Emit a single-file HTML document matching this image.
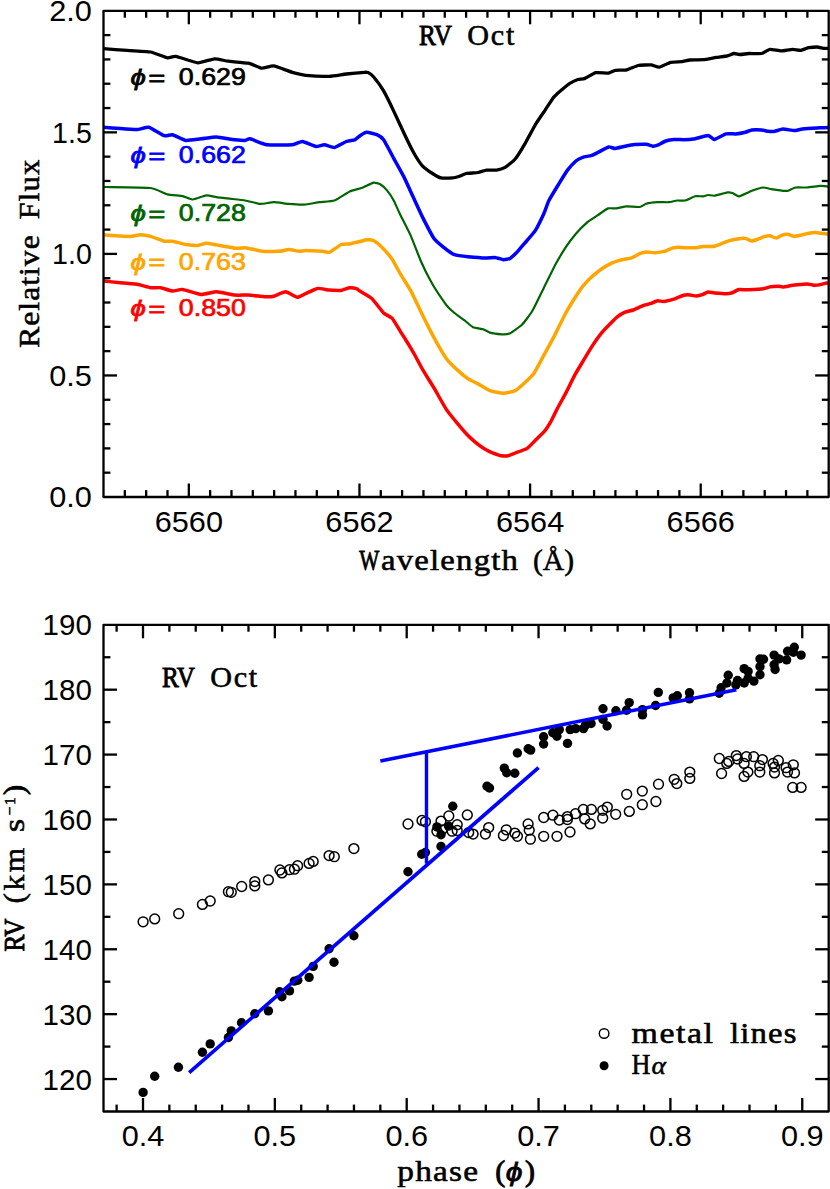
<!DOCTYPE html>
<html><head><meta charset="utf-8"><title>RV Oct</title>
<style>
html,body{margin:0;padding:0;background:#fff;}
body{width:830px;height:1189px;overflow:hidden;font-family:"Liberation Sans",sans-serif;}
svg{display:block;}
</style></head><body>
<svg width="830" height="1189" viewBox="0 0 830 1189">
<rect x="0" y="0" width="830" height="1189" fill="#fff"/>
<g id="curves">
<path d="M103.4,48.7C105.2,48.8 123.5,50.2 127.0,50.4C130.5,50.6 147.6,51.4 150.6,52.0C153.6,52.6 165.6,57.5 167.5,57.8C169.4,58.1 173.6,56.0 175.9,56.4C178.2,56.8 194.9,62.6 197.8,62.8C200.7,63.0 212.4,58.9 214.7,58.8C217.0,58.7 225.7,60.9 228.2,61.2C230.7,61.5 245.9,62.7 248.4,63.2C250.9,63.7 260.0,68.0 261.9,68.2C263.8,68.4 271.4,65.6 273.7,65.9C276.0,66.2 289.6,71.6 292.3,72.3C295.0,73.0 306.4,75.4 309.2,75.7C312.0,76.0 326.6,76.4 329.4,76.3C332.2,76.2 343.6,74.3 346.3,74.0C349.0,73.7 363.2,72.4 364.8,72.3C366.4,72.2 367.3,72.3 368.0,72.6C368.7,72.9 372.3,75.3 373.5,76.7C374.7,78.1 382.1,88.3 383.6,90.9C385.1,93.5 392.2,107.9 393.7,111.1C395.2,114.3 402.4,129.8 403.9,133.0C405.4,136.2 412.6,150.8 414.0,153.3C415.4,155.8 421.0,164.3 422.4,165.8C423.8,167.3 431.1,172.6 432.5,173.5C433.9,174.4 439.5,177.6 441.0,177.9C442.5,178.2 451.4,178.0 452.8,177.9C454.2,177.8 458.5,176.5 459.5,176.2C460.5,175.9 464.9,173.8 466.3,173.5C467.7,173.2 476.6,172.8 478.1,172.5C479.6,172.2 485.1,170.3 486.5,170.1C487.9,169.9 495.2,170.3 496.6,170.1C498.0,169.9 503.7,168.2 505.1,167.4C506.5,166.6 513.7,160.8 515.2,159.0C516.7,157.2 523.8,145.7 525.3,143.1C526.8,140.5 533.9,127.1 535.4,124.6C536.9,122.1 544.2,111.5 545.6,109.4C547.0,107.3 552.7,98.4 554.0,96.9C555.3,95.4 561.2,90.2 562.4,89.2C563.6,88.2 568.6,84.1 569.8,83.4C571.0,82.7 576.8,79.9 577.9,79.5C579.0,79.1 583.1,79.1 584.4,78.6C585.7,78.1 594.0,73.1 595.8,72.7C597.6,72.3 607.3,73.2 608.8,73.0C610.3,72.8 614.0,70.6 615.3,70.4C616.6,70.2 625.0,70.2 626.7,69.8C628.4,69.4 636.3,65.9 638.1,65.5C639.9,65.1 649.5,64.8 651.1,64.9C652.7,65.0 657.7,67.4 659.2,67.2C660.7,67.0 668.9,62.7 670.6,62.3C672.3,61.9 680.5,61.8 682.0,61.6C683.5,61.4 688.5,60.1 690.1,60.0C691.7,59.9 701.1,59.9 703.1,59.7C705.1,59.5 714.3,57.7 716.1,57.4C717.9,57.1 726.2,56.1 727.5,55.8C728.8,55.5 733.0,53.6 734.0,53.5C735.0,53.4 739.4,54.5 740.5,54.5C741.6,54.5 747.1,53.6 748.7,53.5C750.3,53.4 760.1,53.8 761.7,53.5C763.3,53.2 768.3,49.5 769.8,49.3C771.3,49.1 779.5,50.9 781.2,50.9C782.9,50.9 791.1,49.3 792.6,49.3C794.1,49.3 799.5,50.4 800.7,50.3C801.9,50.2 807.7,47.9 808.9,47.7C810.1,47.5 815.9,47.0 817.0,47.0C818.1,47.0 822.6,48.2 823.5,48.3C824.4,48.4 828.6,48.3 829.0,48.3" fill="none" stroke="#000" stroke-width="3.3" stroke-linejoin="round" stroke-linecap="butt"/>
<path d="M103.4,127.3C104.7,127.4 117.7,128.4 120.2,128.6C122.7,128.8 134.9,129.7 137.1,129.6C139.3,129.5 146.9,126.8 148.9,127.3C150.9,127.8 162.3,135.1 164.1,135.7C165.9,136.3 170.9,134.3 172.5,134.7C174.1,135.1 183.8,140.1 186.0,140.4C188.2,140.7 198.9,139.0 201.2,138.8C203.5,138.6 213.9,137.0 216.4,137.1C218.9,137.2 232.8,139.6 235.0,139.8C237.2,140.0 244.0,140.5 245.1,140.4C246.2,140.3 248.5,138.5 250.1,138.8C251.7,139.1 263.8,144.4 267.0,144.8C270.2,145.2 289.6,145.0 292.3,144.8C295.0,144.6 300.6,141.4 302.4,141.5C304.2,141.6 314.2,146.3 315.9,146.5C317.5,146.7 323.0,144.7 324.4,144.8C325.8,144.9 332.9,147.7 334.5,147.5C336.1,147.3 344.8,142.1 346.3,141.5C347.8,140.9 353.7,140.2 354.7,139.8C355.7,139.4 359.1,136.3 360.0,135.7C360.9,135.1 365.4,132.4 366.7,132.3C368.0,132.2 375.6,134.1 376.9,134.7C378.2,135.3 382.3,138.0 383.6,139.8C384.9,141.6 392.2,155.5 393.7,158.3C395.2,161.1 402.4,173.9 403.9,176.9C405.4,179.9 412.6,195.8 414.0,198.8C415.4,201.8 420.9,213.9 422.4,216.9C423.9,219.9 432.6,236.5 434.2,238.8C435.8,241.1 442.8,246.7 444.3,247.9C445.8,249.1 452.7,254.0 454.5,254.7C456.3,255.4 465.7,256.5 468.0,256.7C470.3,256.9 482.8,257.9 484.8,258.0C486.8,258.1 493.6,257.3 495.0,257.4C496.4,257.5 502.3,259.6 503.4,259.7C504.5,259.8 509.1,259.0 510.1,258.4C511.1,257.8 515.6,253.6 516.9,252.3C518.2,251.0 525.6,242.1 527.0,240.5C528.4,238.9 534.1,232.4 535.4,230.4C536.7,228.4 542.9,215.7 543.9,213.5C544.9,211.3 547.8,202.7 548.9,200.5C550.0,198.3 557.6,185.9 559.0,183.6C560.4,181.3 566.2,171.8 567.5,170.1C568.8,168.4 574.8,162.0 575.9,161.0C577.0,160.0 581.6,157.7 582.7,157.3C583.8,156.9 589.8,156.0 591.1,155.6C592.4,155.2 598.2,152.3 599.5,151.6C600.8,150.9 607.6,147.1 608.8,146.9C610.0,146.7 614.1,148.6 615.3,148.5C616.5,148.4 623.6,146.5 625.1,146.2C626.6,145.9 633.2,144.7 634.8,144.6C636.4,144.5 644.9,144.2 646.2,144.3C647.5,144.4 651.8,146.1 652.7,146.2C653.6,146.3 656.6,145.6 657.6,145.2C658.6,144.8 664.5,141.4 665.7,141.0C666.9,140.6 672.6,139.5 673.9,139.4C675.2,139.3 682.1,139.7 683.6,139.7C685.1,139.7 691.6,139.4 693.4,139.1C695.2,138.8 706.4,135.5 708.0,135.5C709.6,135.5 713.2,139.5 714.5,139.4C715.8,139.3 724.3,134.3 725.9,133.9C727.5,133.5 734.2,134.0 735.7,133.9C737.2,133.8 744.2,132.5 745.4,132.2C746.6,131.9 750.7,130.2 751.9,130.0C753.1,129.8 760.5,129.9 761.7,130.0C762.9,130.1 767.2,131.2 768.2,131.3C769.2,131.4 773.6,131.5 774.7,131.3C775.8,131.1 781.3,129.1 782.8,129.0C784.3,128.9 792.7,130.6 794.2,130.6C795.7,130.6 800.7,129.2 802.4,129.0C804.1,128.8 815.0,128.1 817.0,128.0C819.0,127.9 828.1,127.4 829.0,127.4" fill="none" stroke="#0000ff" stroke-width="3.5" stroke-linejoin="round" stroke-linecap="butt"/>
<path d="M103.4,187.0C106.9,187.1 145.8,187.4 150.6,188.0C155.4,188.6 165.1,193.8 167.5,194.4C169.9,195.0 180.8,195.7 182.7,196.1C184.6,196.5 191.0,199.6 192.8,199.5C194.6,199.4 204.5,195.6 206.3,195.4C208.1,195.2 215.0,196.9 216.4,197.1C217.8,197.3 222.6,197.8 224.8,198.1C227.0,198.4 242.4,200.1 245.1,200.5C247.8,200.9 258.2,203.8 260.3,203.9C262.4,204.0 271.6,202.2 273.7,202.2C275.8,202.2 286.6,203.7 288.9,203.9C291.2,204.1 301.8,204.7 304.1,204.6C306.4,204.5 317.0,202.5 319.3,202.2C321.6,201.9 332.2,201.3 334.5,200.5C336.8,199.7 347.7,192.3 349.7,191.4C351.7,190.5 359.7,188.7 361.5,188.0C363.3,187.3 372.1,182.9 373.5,182.6C374.9,182.3 379.2,183.7 380.2,184.3C381.2,184.9 386.0,189.2 387.0,190.4C388.0,191.6 392.7,198.6 393.7,200.5C394.7,202.4 399.2,212.6 400.5,215.2C401.8,217.8 409.1,232.0 410.6,235.4C412.1,238.8 419.1,257.0 420.7,260.7C422.3,264.4 430.6,281.0 432.5,284.3C434.4,287.6 444.4,302.4 446.0,304.6C447.6,306.8 453.1,311.8 454.5,313.0C455.9,314.2 463.2,319.3 464.6,320.4C466.0,321.5 471.6,326.5 473.0,327.2C474.4,327.9 481.8,328.8 483.1,329.2C484.4,329.6 488.5,332.2 489.9,332.6C491.3,333.0 500.2,334.2 501.7,334.3C503.2,334.4 508.6,334.0 510.1,333.3C511.6,332.6 520.2,326.4 521.9,324.8C523.5,323.2 530.5,314.1 532.1,311.3C533.8,308.5 542.1,291.2 543.9,287.7C545.7,284.2 554.1,267.1 555.7,264.1C557.3,261.1 564.3,249.5 565.8,247.2C567.3,244.9 574.3,235.6 575.9,233.7C577.5,231.8 586.1,223.3 587.7,221.9C589.3,220.5 596.3,216.2 597.8,215.2C599.3,214.2 606.6,208.9 608.0,208.4C609.4,207.9 615.0,208.6 616.4,208.4C617.8,208.2 625.0,206.5 626.7,206.4C628.4,206.3 638.2,207.2 639.7,207.0C641.2,206.8 644.9,204.2 646.2,203.8C647.5,203.4 655.9,202.3 657.6,202.2C659.3,202.1 667.5,202.3 669.0,202.2C670.5,202.1 675.9,200.6 677.1,200.5C678.3,200.4 683.9,200.8 685.2,200.5C686.5,200.2 693.7,196.6 695.0,196.3C696.3,196.0 702.1,196.4 703.1,196.3C704.1,196.2 707.1,195.0 708.0,195.0C708.9,195.0 713.0,195.9 714.5,195.7C716.0,195.5 726.2,192.6 727.5,192.4C728.8,192.2 731.5,192.7 732.4,193.0C733.3,193.3 737.4,196.5 738.9,196.3C740.4,196.1 750.1,191.5 751.9,190.8C753.7,190.1 761.8,187.6 763.3,187.5C764.8,187.4 770.0,189.0 771.5,189.2C773.0,189.4 781.6,190.7 782.8,190.8C784.0,190.9 786.7,191.0 787.7,190.8C788.7,190.6 794.3,187.7 795.8,187.5C797.3,187.3 805.4,187.6 807.2,187.5C809.0,187.4 818.6,186.0 820.2,185.9C821.8,185.8 828.3,186.5 829.0,186.6" fill="none" stroke="#006400" stroke-width="2.2" stroke-linejoin="round" stroke-linecap="butt"/>
<path d="M103.4,234.8C104.7,234.9 118.2,236.0 120.2,236.1C122.2,236.2 128.9,236.5 130.4,236.4C131.9,236.3 139.0,234.8 140.5,234.8C142.0,234.8 148.8,235.9 150.6,236.4C152.4,236.9 162.5,240.8 164.1,241.2C165.7,241.6 170.9,241.0 172.5,241.2C174.1,241.4 184.1,244.2 186.0,244.5C187.9,244.8 196.3,245.6 197.8,245.5C199.3,245.4 204.9,243.2 206.3,243.2C207.7,243.2 214.2,244.5 216.4,244.9C218.6,245.3 232.7,248.0 235.0,248.2C237.3,248.4 244.8,247.7 246.8,247.9C248.8,248.1 259.5,251.0 261.9,251.3C264.3,251.6 276.8,251.4 278.8,251.3C280.8,251.2 287.4,249.6 288.9,249.6C290.4,249.6 297.8,251.2 299.1,251.3C300.4,251.4 304.0,250.6 305.8,250.6C307.6,250.6 320.9,251.2 322.7,251.3C324.5,251.4 328.0,252.8 329.4,252.3C330.8,251.8 339.7,245.1 341.2,244.5C342.7,243.9 348.3,244.1 349.7,243.9C351.1,243.7 358.5,241.8 359.8,241.5C361.1,241.2 365.7,239.9 366.7,239.8C367.7,239.7 372.4,239.9 373.5,240.5C374.6,241.1 380.5,245.8 381.9,247.2C383.3,248.6 390.6,257.0 392.0,259.0C393.4,261.0 399.1,271.8 400.5,274.2C401.9,276.6 409.1,287.6 410.6,290.4C412.1,293.2 419.2,308.2 420.7,311.3C422.2,314.4 429.3,328.7 430.8,331.6C432.3,334.5 439.7,347.9 441.0,350.1C442.3,352.3 446.4,358.8 447.7,360.3C449.0,361.8 456.3,369.0 457.8,370.4C459.3,371.8 466.5,377.8 468.0,378.8C469.5,379.8 476.5,383.0 478.1,383.9C479.7,384.8 488.0,389.9 489.9,390.6C491.8,391.3 501.5,393.3 503.4,393.3C505.3,393.3 513.6,391.4 515.2,390.6C516.8,389.8 523.9,383.5 525.3,382.2C526.7,380.9 532.3,375.8 533.7,373.8C535.1,371.8 542.4,358.0 543.9,355.2C545.4,352.4 552.4,339.8 554.0,336.6C555.6,333.4 564.2,316.0 565.8,313.0C567.4,310.0 574.5,298.4 575.9,296.2C577.3,294.0 583.1,285.8 584.4,284.3C585.7,282.8 591.5,277.0 592.8,275.9C594.1,274.8 599.9,270.1 601.2,269.2C602.5,268.3 608.3,264.8 609.7,264.1C611.1,263.4 618.6,260.7 620.2,260.2C621.8,259.7 630.1,258.4 631.6,257.9C633.1,257.4 638.6,254.1 639.7,253.7C640.8,253.3 645.1,252.1 646.2,252.0C647.3,251.9 653.0,252.7 654.3,252.7C655.6,252.7 662.8,251.7 664.1,251.4C665.4,251.1 671.1,248.4 672.2,248.1C673.3,247.8 677.7,247.2 678.7,247.2C679.7,247.2 684.0,247.8 685.2,247.8C686.4,247.8 693.7,247.9 695.0,247.8C696.3,247.7 701.6,246.6 703.1,246.5C704.6,246.4 713.2,246.4 714.5,246.2C715.8,246.0 719.9,244.3 721.0,243.9C722.1,243.5 728.0,241.1 729.2,240.7C730.4,240.3 736.1,239.2 737.3,239.0C738.5,238.8 744.3,238.2 745.4,238.4C746.5,238.6 750.9,241.0 751.9,241.0C752.9,241.0 757.4,239.3 758.4,239.0C759.4,238.7 764.0,236.6 764.9,236.4C765.8,236.2 768.9,235.7 769.8,235.8C770.7,235.9 775.3,238.2 776.3,238.1C777.3,238.0 781.9,235.1 782.8,234.8C783.7,234.5 786.8,234.1 787.7,234.2C788.6,234.3 793.1,236.4 794.2,236.4C795.3,236.4 801.3,235.0 802.4,234.8C803.5,234.6 807.9,233.4 808.9,233.2C809.9,233.0 814.3,232.5 815.4,232.5C816.5,232.5 822.5,233.4 823.5,233.5C824.5,233.6 828.6,234.1 829.0,234.2" fill="none" stroke="#ffa500" stroke-width="3.5" stroke-linejoin="round" stroke-linecap="butt"/>
<path d="M103.4,281.0C104.7,281.1 117.7,282.5 120.2,282.7C122.7,282.9 134.8,283.9 137.1,284.3C139.4,284.7 148.8,287.4 150.6,287.7C152.4,288.0 159.1,287.4 160.7,287.7C162.3,288.0 170.8,291.0 172.5,291.1C174.2,291.2 180.5,289.1 182.7,289.4C184.9,289.7 198.7,294.3 201.2,294.5C203.7,294.7 213.9,291.8 216.4,291.8C218.9,291.8 232.6,294.9 235.0,295.1C237.4,295.3 246.1,295.0 248.4,295.1C250.7,295.2 263.4,296.7 265.3,296.8C267.2,296.9 272.2,296.6 273.7,296.2C275.2,295.8 283.8,291.7 285.6,291.8C287.4,291.9 295.9,297.1 297.4,297.2C298.9,297.3 304.3,294.2 305.8,293.5C307.3,292.8 315.8,288.7 317.6,288.4C319.4,288.1 327.6,290.0 329.4,290.1C331.2,290.2 339.7,290.6 341.2,290.4C342.7,290.2 348.6,287.8 349.7,287.7C350.8,287.6 355.6,288.4 356.4,288.7C357.2,289.0 358.8,290.4 360.0,291.1C361.2,291.8 370.0,296.9 371.8,298.5C373.6,300.1 382.1,311.5 383.6,313.0C385.1,314.5 390.7,316.7 392.0,318.1C393.3,319.5 399.5,330.0 400.5,331.6C401.5,333.2 404.8,338.3 405.8,340.0C406.9,341.7 413.2,352.2 414.5,354.5C415.8,356.8 421.6,367.8 423.1,370.4C424.6,373.0 433.0,386.3 434.7,389.2C436.4,392.1 444.6,406.8 446.3,409.4C448.0,412.0 456.3,422.1 457.8,423.9C459.3,425.7 465.2,432.6 466.5,434.0C467.8,435.4 473.9,441.0 475.2,442.1C476.5,443.2 482.6,447.6 483.9,448.4C485.2,449.2 491.2,452.3 492.5,452.8C493.8,453.3 500.0,455.5 501.2,455.7C502.4,455.9 507.3,455.9 508.4,455.7C509.5,455.5 514.3,453.3 515.7,452.8C517.1,452.3 525.7,449.4 527.2,448.4C528.7,447.4 534.6,441.1 535.9,439.8C537.2,438.5 543.5,432.4 544.6,431.1C545.7,429.8 549.4,424.1 550.4,422.4C551.4,420.7 556.4,410.3 557.6,408.0C558.8,405.7 565.0,394.6 566.3,392.1C567.6,389.6 573.7,377.1 575.0,374.7C576.3,372.3 582.3,362.4 583.6,360.2C584.9,358.0 591.5,347.1 592.8,345.1C594.1,343.1 599.9,334.9 601.2,333.3C602.5,331.7 608.5,325.4 609.7,324.2C610.9,323.0 615.7,318.0 616.9,317.1C618.1,316.2 623.9,312.7 625.1,312.2C626.3,311.7 631.9,310.5 633.2,310.0C634.5,309.5 641.7,306.2 643.0,305.7C644.3,305.2 650.0,303.8 651.1,303.4C652.2,303.0 656.6,300.9 657.6,300.8C658.6,300.7 662.8,301.7 664.1,301.5C665.4,301.3 674.0,299.1 675.5,298.6C677.0,298.1 682.5,295.6 683.6,295.3C684.7,295.0 689.1,294.9 690.1,295.0C691.1,295.1 695.6,296.1 696.6,296.0C697.6,295.9 702.2,294.6 703.1,294.3C704.0,294.0 707.1,292.2 708.0,292.1C708.9,292.0 713.2,292.9 714.5,293.0C715.8,293.1 724.6,293.7 725.9,293.7C727.2,293.7 731.4,293.0 732.4,292.7C733.4,292.4 737.7,289.7 738.9,289.5C740.1,289.3 746.9,289.9 748.7,289.8C750.5,289.7 761.7,289.0 763.3,288.8C764.9,288.6 768.7,287.1 769.8,286.9C770.9,286.7 777.0,286.2 778.0,286.2C779.0,286.2 781.8,286.9 782.8,286.9C783.8,286.9 789.7,285.8 791.0,285.6C792.3,285.4 799.5,284.7 800.7,284.6C801.9,284.5 806.2,283.9 807.2,283.9C808.2,283.9 812.7,285.1 813.7,285.2C814.7,285.3 819.2,284.8 820.2,284.6C821.2,284.4 826.0,283.1 826.7,283.0C827.4,282.9 828.8,283.6 829.0,283.6" fill="none" stroke="#ff0000" stroke-width="3.5" stroke-linejoin="round" stroke-linecap="butt"/>
</g>
<g id="points">
<circle cx="143.1" cy="921.8" r="4.9" fill="none" stroke="#000" stroke-width="1.5"/>
<circle cx="154.7" cy="918.9" r="4.9" fill="none" stroke="#000" stroke-width="1.5"/>
<circle cx="178.7" cy="913.7" r="4.9" fill="none" stroke="#000" stroke-width="1.5"/>
<circle cx="202.4" cy="904.4" r="4.9" fill="none" stroke="#000" stroke-width="1.5"/>
<circle cx="210.2" cy="901.0" r="4.9" fill="none" stroke="#000" stroke-width="1.5"/>
<circle cx="228.4" cy="891.7" r="4.9" fill="none" stroke="#000" stroke-width="1.5"/>
<circle cx="231.3" cy="892.3" r="4.9" fill="none" stroke="#000" stroke-width="1.5"/>
<circle cx="241.7" cy="886.5" r="4.9" fill="none" stroke="#000" stroke-width="1.5"/>
<circle cx="254.8" cy="881.6" r="4.9" fill="none" stroke="#000" stroke-width="1.5"/>
<circle cx="254.8" cy="885.9" r="4.9" fill="none" stroke="#000" stroke-width="1.5"/>
<circle cx="268.4" cy="879.9" r="4.9" fill="none" stroke="#000" stroke-width="1.5"/>
<circle cx="279.9" cy="870.0" r="4.9" fill="none" stroke="#000" stroke-width="1.5"/>
<circle cx="281.9" cy="872.9" r="4.9" fill="none" stroke="#000" stroke-width="1.5"/>
<circle cx="289.5" cy="869.7" r="4.9" fill="none" stroke="#000" stroke-width="1.5"/>
<circle cx="294.4" cy="869.2" r="4.9" fill="none" stroke="#000" stroke-width="1.5"/>
<circle cx="297.6" cy="865.7" r="4.9" fill="none" stroke="#000" stroke-width="1.5"/>
<circle cx="309.1" cy="863.4" r="4.9" fill="none" stroke="#000" stroke-width="1.5"/>
<circle cx="313.2" cy="861.4" r="4.9" fill="none" stroke="#000" stroke-width="1.5"/>
<circle cx="329.1" cy="855.6" r="4.9" fill="none" stroke="#000" stroke-width="1.5"/>
<circle cx="334.3" cy="856.7" r="4.9" fill="none" stroke="#000" stroke-width="1.5"/>
<circle cx="353.9" cy="848.6" r="4.9" fill="none" stroke="#000" stroke-width="1.5"/>
<circle cx="408.0" cy="824.0" r="4.9" fill="none" stroke="#000" stroke-width="1.5"/>
<circle cx="422.0" cy="820.4" r="4.9" fill="none" stroke="#000" stroke-width="1.5"/>
<circle cx="425.4" cy="821.8" r="4.9" fill="none" stroke="#000" stroke-width="1.5"/>
<circle cx="441.0" cy="821.1" r="4.9" fill="none" stroke="#000" stroke-width="1.5"/>
<circle cx="448.8" cy="816.0" r="4.9" fill="none" stroke="#000" stroke-width="1.5"/>
<circle cx="467.3" cy="814.9" r="4.9" fill="none" stroke="#000" stroke-width="1.5"/>
<circle cx="436.9" cy="831.2" r="4.9" fill="none" stroke="#000" stroke-width="1.5"/>
<circle cx="442.0" cy="829.8" r="4.9" fill="none" stroke="#000" stroke-width="1.5"/>
<circle cx="452.1" cy="831.2" r="4.9" fill="none" stroke="#000" stroke-width="1.5"/>
<circle cx="457.2" cy="824.7" r="4.9" fill="none" stroke="#000" stroke-width="1.5"/>
<circle cx="457.2" cy="830.5" r="4.9" fill="none" stroke="#000" stroke-width="1.5"/>
<circle cx="468.7" cy="832.6" r="4.9" fill="none" stroke="#000" stroke-width="1.5"/>
<circle cx="473.1" cy="834.1" r="4.9" fill="none" stroke="#000" stroke-width="1.5"/>
<circle cx="485.4" cy="834.1" r="4.9" fill="none" stroke="#000" stroke-width="1.5"/>
<circle cx="488.7" cy="827.6" r="4.9" fill="none" stroke="#000" stroke-width="1.5"/>
<circle cx="503.4" cy="835.5" r="4.9" fill="none" stroke="#000" stroke-width="1.5"/>
<circle cx="506.3" cy="829.8" r="4.9" fill="none" stroke="#000" stroke-width="1.5"/>
<circle cx="514.8" cy="833.1" r="4.9" fill="none" stroke="#000" stroke-width="1.5"/>
<circle cx="517.4" cy="836.3" r="4.9" fill="none" stroke="#000" stroke-width="1.5"/>
<circle cx="528.1" cy="823.9" r="4.9" fill="none" stroke="#000" stroke-width="1.5"/>
<circle cx="529.2" cy="830.2" r="4.9" fill="none" stroke="#000" stroke-width="1.5"/>
<circle cx="530.4" cy="839.2" r="4.9" fill="none" stroke="#000" stroke-width="1.5"/>
<circle cx="543.7" cy="836.3" r="4.9" fill="none" stroke="#000" stroke-width="1.5"/>
<circle cx="543.7" cy="817.5" r="4.9" fill="none" stroke="#000" stroke-width="1.5"/>
<circle cx="552.9" cy="815.2" r="4.9" fill="none" stroke="#000" stroke-width="1.5"/>
<circle cx="557.0" cy="836.3" r="4.9" fill="none" stroke="#000" stroke-width="1.5"/>
<circle cx="559.3" cy="820.1" r="4.9" fill="none" stroke="#000" stroke-width="1.5"/>
<circle cx="567.4" cy="816.6" r="4.9" fill="none" stroke="#000" stroke-width="1.5"/>
<circle cx="567.4" cy="819.5" r="4.9" fill="none" stroke="#000" stroke-width="1.5"/>
<circle cx="570.0" cy="832.0" r="4.9" fill="none" stroke="#000" stroke-width="1.5"/>
<circle cx="575.5" cy="813.7" r="4.9" fill="none" stroke="#000" stroke-width="1.5"/>
<circle cx="583.3" cy="809.4" r="4.9" fill="none" stroke="#000" stroke-width="1.5"/>
<circle cx="584.7" cy="818.9" r="4.9" fill="none" stroke="#000" stroke-width="1.5"/>
<circle cx="590.2" cy="823.9" r="4.9" fill="none" stroke="#000" stroke-width="1.5"/>
<circle cx="591.4" cy="809.4" r="4.9" fill="none" stroke="#000" stroke-width="1.5"/>
<circle cx="602.7" cy="810.3" r="4.9" fill="none" stroke="#000" stroke-width="1.5"/>
<circle cx="602.7" cy="818.1" r="4.9" fill="none" stroke="#000" stroke-width="1.5"/>
<circle cx="607.3" cy="807.1" r="4.9" fill="none" stroke="#000" stroke-width="1.5"/>
<circle cx="615.7" cy="814.3" r="4.9" fill="none" stroke="#000" stroke-width="1.5"/>
<circle cx="626.7" cy="794.3" r="4.9" fill="none" stroke="#000" stroke-width="1.5"/>
<circle cx="629.3" cy="811.4" r="4.9" fill="none" stroke="#000" stroke-width="1.5"/>
<circle cx="642.3" cy="791.1" r="4.9" fill="none" stroke="#000" stroke-width="1.5"/>
<circle cx="642.3" cy="804.7" r="4.9" fill="none" stroke="#000" stroke-width="1.5"/>
<circle cx="655.9" cy="801.5" r="4.9" fill="none" stroke="#000" stroke-width="1.5"/>
<circle cx="658.5" cy="784.2" r="4.9" fill="none" stroke="#000" stroke-width="1.5"/>
<circle cx="674.2" cy="779.3" r="4.9" fill="none" stroke="#000" stroke-width="1.5"/>
<circle cx="676.8" cy="783.6" r="4.9" fill="none" stroke="#000" stroke-width="1.5"/>
<circle cx="689.8" cy="772.1" r="4.9" fill="none" stroke="#000" stroke-width="1.5"/>
<circle cx="689.8" cy="778.4" r="4.9" fill="none" stroke="#000" stroke-width="1.5"/>
<circle cx="719.3" cy="758.5" r="4.9" fill="none" stroke="#000" stroke-width="1.5"/>
<circle cx="721.6" cy="773.5" r="4.9" fill="none" stroke="#000" stroke-width="1.5"/>
<circle cx="726.8" cy="763.4" r="4.9" fill="none" stroke="#000" stroke-width="1.5"/>
<circle cx="728.8" cy="761.4" r="4.9" fill="none" stroke="#000" stroke-width="1.5"/>
<circle cx="736.3" cy="755.6" r="4.9" fill="none" stroke="#000" stroke-width="1.5"/>
<circle cx="737.5" cy="759.0" r="4.9" fill="none" stroke="#000" stroke-width="1.5"/>
<circle cx="744.1" cy="763.4" r="4.9" fill="none" stroke="#000" stroke-width="1.5"/>
<circle cx="744.1" cy="776.4" r="4.9" fill="none" stroke="#000" stroke-width="1.5"/>
<circle cx="746.4" cy="756.7" r="4.9" fill="none" stroke="#000" stroke-width="1.5"/>
<circle cx="747.9" cy="772.1" r="4.9" fill="none" stroke="#000" stroke-width="1.5"/>
<circle cx="753.7" cy="756.7" r="4.9" fill="none" stroke="#000" stroke-width="1.5"/>
<circle cx="759.8" cy="765.7" r="4.9" fill="none" stroke="#000" stroke-width="1.5"/>
<circle cx="759.8" cy="772.1" r="4.9" fill="none" stroke="#000" stroke-width="1.5"/>
<circle cx="762.4" cy="759.6" r="4.9" fill="none" stroke="#000" stroke-width="1.5"/>
<circle cx="773.1" cy="763.4" r="4.9" fill="none" stroke="#000" stroke-width="1.5"/>
<circle cx="774.5" cy="767.1" r="4.9" fill="none" stroke="#000" stroke-width="1.5"/>
<circle cx="774.5" cy="772.9" r="4.9" fill="none" stroke="#000" stroke-width="1.5"/>
<circle cx="778.3" cy="760.5" r="4.9" fill="none" stroke="#000" stroke-width="1.5"/>
<circle cx="786.1" cy="767.7" r="4.9" fill="none" stroke="#000" stroke-width="1.5"/>
<circle cx="787.5" cy="772.1" r="4.9" fill="none" stroke="#000" stroke-width="1.5"/>
<circle cx="793.3" cy="764.8" r="4.9" fill="none" stroke="#000" stroke-width="1.5"/>
<circle cx="794.5" cy="772.9" r="4.9" fill="none" stroke="#000" stroke-width="1.5"/>
<circle cx="792.7" cy="787.4" r="4.9" fill="none" stroke="#000" stroke-width="1.5"/>
<circle cx="801.1" cy="787.4" r="4.9" fill="none" stroke="#000" stroke-width="1.5"/>
<circle cx="143.1" cy="1092.4" r="4.7" fill="#000"/>
<circle cx="154.7" cy="1076.3" r="4.7" fill="#000"/>
<circle cx="178.4" cy="1067.3" r="4.7" fill="#000"/>
<circle cx="202.4" cy="1052.3" r="4.7" fill="#000"/>
<circle cx="210.2" cy="1043.9" r="4.7" fill="#000"/>
<circle cx="228.4" cy="1037.5" r="4.7" fill="#000"/>
<circle cx="231.3" cy="1030.9" r="4.7" fill="#000"/>
<circle cx="241.5" cy="1022.8" r="4.7" fill="#000"/>
<circle cx="254.8" cy="1013.8" r="4.7" fill="#000"/>
<circle cx="268.4" cy="1010.9" r="4.7" fill="#000"/>
<circle cx="279.6" cy="991.8" r="4.7" fill="#000"/>
<circle cx="281.9" cy="996.7" r="4.7" fill="#000"/>
<circle cx="289.5" cy="990.9" r="4.7" fill="#000"/>
<circle cx="294.4" cy="981.1" r="4.7" fill="#000"/>
<circle cx="297.8" cy="980.2" r="4.7" fill="#000"/>
<circle cx="309.1" cy="977.4" r="4.7" fill="#000"/>
<circle cx="313.2" cy="966.4" r="4.7" fill="#000"/>
<circle cx="334.0" cy="962.3" r="4.7" fill="#000"/>
<circle cx="329.1" cy="948.7" r="4.7" fill="#000"/>
<circle cx="353.9" cy="935.7" r="4.7" fill="#000"/>
<circle cx="408.0" cy="871.7" r="4.7" fill="#000"/>
<circle cx="421.7" cy="854.3" r="4.7" fill="#000"/>
<circle cx="425.4" cy="852.5" r="4.7" fill="#000"/>
<circle cx="441.0" cy="846.4" r="4.7" fill="#000"/>
<circle cx="452.8" cy="806.2" r="4.7" fill="#000"/>
<circle cx="436.9" cy="826.9" r="4.7" fill="#000"/>
<circle cx="441.0" cy="834.8" r="4.7" fill="#000"/>
<circle cx="448.5" cy="826.1" r="4.7" fill="#000"/>
<circle cx="487.0" cy="786.3" r="4.7" fill="#000"/>
<circle cx="489.5" cy="788.0" r="4.7" fill="#000"/>
<circle cx="504.3" cy="768.1" r="4.7" fill="#000"/>
<circle cx="506.7" cy="772.7" r="4.7" fill="#000"/>
<circle cx="514.8" cy="773.3" r="4.7" fill="#000"/>
<circle cx="517.4" cy="753.0" r="4.7" fill="#000"/>
<circle cx="528.2" cy="748.7" r="4.7" fill="#000"/>
<circle cx="530.7" cy="750.1" r="4.7" fill="#000"/>
<circle cx="543.6" cy="736.8" r="4.7" fill="#000"/>
<circle cx="543.6" cy="744.0" r="4.7" fill="#000"/>
<circle cx="552.8" cy="732.7" r="4.7" fill="#000"/>
<circle cx="556.9" cy="736.2" r="4.7" fill="#000"/>
<circle cx="559.3" cy="729.6" r="4.7" fill="#000"/>
<circle cx="567.5" cy="743.4" r="4.7" fill="#000"/>
<circle cx="570.2" cy="729.6" r="4.7" fill="#000"/>
<circle cx="575.7" cy="728.6" r="4.7" fill="#000"/>
<circle cx="583.5" cy="728.6" r="4.7" fill="#000"/>
<circle cx="585.5" cy="725.1" r="4.7" fill="#000"/>
<circle cx="591.1" cy="723.5" r="4.7" fill="#000"/>
<circle cx="603.0" cy="708.8" r="4.7" fill="#000"/>
<circle cx="603.0" cy="719.4" r="4.7" fill="#000"/>
<circle cx="607.1" cy="726.0" r="4.7" fill="#000"/>
<circle cx="615.9" cy="710.8" r="4.7" fill="#000"/>
<circle cx="626.5" cy="710.2" r="4.7" fill="#000"/>
<circle cx="629.2" cy="702.6" r="4.7" fill="#000"/>
<circle cx="642.5" cy="709.6" r="4.7" fill="#000"/>
<circle cx="642.5" cy="714.9" r="4.7" fill="#000"/>
<circle cx="655.6" cy="705.5" r="4.7" fill="#000"/>
<circle cx="658.3" cy="692.4" r="4.7" fill="#000"/>
<circle cx="673.2" cy="697.9" r="4.7" fill="#000"/>
<circle cx="677.3" cy="695.8" r="4.7" fill="#000"/>
<circle cx="689.5" cy="692.8" r="4.7" fill="#000"/>
<circle cx="689.5" cy="698.9" r="4.7" fill="#000"/>
<circle cx="719.2" cy="693.2" r="4.7" fill="#000"/>
<circle cx="721.1" cy="687.8" r="4.7" fill="#000"/>
<circle cx="726.9" cy="683.0" r="4.7" fill="#000"/>
<circle cx="728.2" cy="675.3" r="4.7" fill="#000"/>
<circle cx="735.9" cy="684.9" r="4.7" fill="#000"/>
<circle cx="737.5" cy="680.5" r="4.7" fill="#000"/>
<circle cx="744.2" cy="683.0" r="4.7" fill="#000"/>
<circle cx="744.2" cy="668.6" r="4.7" fill="#000"/>
<circle cx="748.1" cy="671.4" r="4.7" fill="#000"/>
<circle cx="748.1" cy="678.2" r="4.7" fill="#000"/>
<circle cx="753.9" cy="681.1" r="4.7" fill="#000"/>
<circle cx="760.0" cy="658.9" r="4.7" fill="#000"/>
<circle cx="760.0" cy="666.6" r="4.7" fill="#000"/>
<circle cx="760.0" cy="674.7" r="4.7" fill="#000"/>
<circle cx="763.5" cy="659.3" r="4.7" fill="#000"/>
<circle cx="774.1" cy="655.1" r="4.7" fill="#000"/>
<circle cx="774.1" cy="664.7" r="4.7" fill="#000"/>
<circle cx="775.1" cy="669.5" r="4.7" fill="#000"/>
<circle cx="778.9" cy="658.9" r="4.7" fill="#000"/>
<circle cx="786.6" cy="659.9" r="4.7" fill="#000"/>
<circle cx="787.6" cy="651.2" r="4.7" fill="#000"/>
<circle cx="793.4" cy="652.2" r="4.7" fill="#000"/>
<circle cx="794.3" cy="647.3" r="4.7" fill="#000"/>
<circle cx="801.1" cy="655.1" r="4.7" fill="#000"/>
<circle cx="604.1" cy="1033.5" r="4.8" fill="none" stroke="#000" stroke-width="1.4"/>
<circle cx="604.1" cy="1065.7" r="4.5" fill="#000"/>
</g>
<g id="fitlines">
<line x1="189.15" y1="1072.56" x2="538.55" y2="767.57" stroke="#0000ff" stroke-width="3.6"/>
<line x1="380.33" y1="761.08" x2="736.32" y2="689.69" stroke="#0000ff" stroke-width="3.6"/>
<line x1="426.48" y1="751.99" x2="426.48" y2="863.61" stroke="#0000ff" stroke-width="3.4"/>
</g>
<g id="ticks">
<line x1="124.83" y1="497.00" x2="124.83" y2="490.10" stroke="#000" stroke-width="2.3"/>
<line x1="124.83" y1="10.80" x2="124.83" y2="17.70" stroke="#000" stroke-width="2.3"/>
<line x1="146.16" y1="497.00" x2="146.16" y2="490.10" stroke="#000" stroke-width="2.3"/>
<line x1="146.16" y1="10.80" x2="146.16" y2="17.70" stroke="#000" stroke-width="2.3"/>
<line x1="167.49" y1="497.00" x2="167.49" y2="490.10" stroke="#000" stroke-width="2.3"/>
<line x1="167.49" y1="10.80" x2="167.49" y2="17.70" stroke="#000" stroke-width="2.3"/>
<line x1="188.82" y1="497.00" x2="188.82" y2="483.50" stroke="#000" stroke-width="2.3"/>
<line x1="188.82" y1="10.80" x2="188.82" y2="24.30" stroke="#000" stroke-width="2.3"/>
<line x1="210.15" y1="497.00" x2="210.15" y2="490.10" stroke="#000" stroke-width="2.3"/>
<line x1="210.15" y1="10.80" x2="210.15" y2="17.70" stroke="#000" stroke-width="2.3"/>
<line x1="231.48" y1="497.00" x2="231.48" y2="490.10" stroke="#000" stroke-width="2.3"/>
<line x1="231.48" y1="10.80" x2="231.48" y2="17.70" stroke="#000" stroke-width="2.3"/>
<line x1="252.81" y1="497.00" x2="252.81" y2="490.10" stroke="#000" stroke-width="2.3"/>
<line x1="252.81" y1="10.80" x2="252.81" y2="17.70" stroke="#000" stroke-width="2.3"/>
<line x1="274.14" y1="497.00" x2="274.14" y2="490.10" stroke="#000" stroke-width="2.3"/>
<line x1="274.14" y1="10.80" x2="274.14" y2="17.70" stroke="#000" stroke-width="2.3"/>
<line x1="295.46" y1="497.00" x2="295.46" y2="490.10" stroke="#000" stroke-width="2.3"/>
<line x1="295.46" y1="10.80" x2="295.46" y2="17.70" stroke="#000" stroke-width="2.3"/>
<line x1="316.79" y1="497.00" x2="316.79" y2="490.10" stroke="#000" stroke-width="2.3"/>
<line x1="316.79" y1="10.80" x2="316.79" y2="17.70" stroke="#000" stroke-width="2.3"/>
<line x1="338.12" y1="497.00" x2="338.12" y2="490.10" stroke="#000" stroke-width="2.3"/>
<line x1="338.12" y1="10.80" x2="338.12" y2="17.70" stroke="#000" stroke-width="2.3"/>
<line x1="359.45" y1="497.00" x2="359.45" y2="483.50" stroke="#000" stroke-width="2.3"/>
<line x1="359.45" y1="10.80" x2="359.45" y2="24.30" stroke="#000" stroke-width="2.3"/>
<line x1="380.78" y1="497.00" x2="380.78" y2="490.10" stroke="#000" stroke-width="2.3"/>
<line x1="380.78" y1="10.80" x2="380.78" y2="17.70" stroke="#000" stroke-width="2.3"/>
<line x1="402.11" y1="497.00" x2="402.11" y2="490.10" stroke="#000" stroke-width="2.3"/>
<line x1="402.11" y1="10.80" x2="402.11" y2="17.70" stroke="#000" stroke-width="2.3"/>
<line x1="423.44" y1="497.00" x2="423.44" y2="490.10" stroke="#000" stroke-width="2.3"/>
<line x1="423.44" y1="10.80" x2="423.44" y2="17.70" stroke="#000" stroke-width="2.3"/>
<line x1="444.77" y1="497.00" x2="444.77" y2="490.10" stroke="#000" stroke-width="2.3"/>
<line x1="444.77" y1="10.80" x2="444.77" y2="17.70" stroke="#000" stroke-width="2.3"/>
<line x1="466.10" y1="497.00" x2="466.10" y2="490.10" stroke="#000" stroke-width="2.3"/>
<line x1="466.10" y1="10.80" x2="466.10" y2="17.70" stroke="#000" stroke-width="2.3"/>
<line x1="487.43" y1="497.00" x2="487.43" y2="490.10" stroke="#000" stroke-width="2.3"/>
<line x1="487.43" y1="10.80" x2="487.43" y2="17.70" stroke="#000" stroke-width="2.3"/>
<line x1="508.76" y1="497.00" x2="508.76" y2="490.10" stroke="#000" stroke-width="2.3"/>
<line x1="508.76" y1="10.80" x2="508.76" y2="17.70" stroke="#000" stroke-width="2.3"/>
<line x1="530.09" y1="497.00" x2="530.09" y2="483.50" stroke="#000" stroke-width="2.3"/>
<line x1="530.09" y1="10.80" x2="530.09" y2="24.30" stroke="#000" stroke-width="2.3"/>
<line x1="551.42" y1="497.00" x2="551.42" y2="490.10" stroke="#000" stroke-width="2.3"/>
<line x1="551.42" y1="10.80" x2="551.42" y2="17.70" stroke="#000" stroke-width="2.3"/>
<line x1="572.75" y1="497.00" x2="572.75" y2="490.10" stroke="#000" stroke-width="2.3"/>
<line x1="572.75" y1="10.80" x2="572.75" y2="17.70" stroke="#000" stroke-width="2.3"/>
<line x1="594.08" y1="497.00" x2="594.08" y2="490.10" stroke="#000" stroke-width="2.3"/>
<line x1="594.08" y1="10.80" x2="594.08" y2="17.70" stroke="#000" stroke-width="2.3"/>
<line x1="615.41" y1="497.00" x2="615.41" y2="490.10" stroke="#000" stroke-width="2.3"/>
<line x1="615.41" y1="10.80" x2="615.41" y2="17.70" stroke="#000" stroke-width="2.3"/>
<line x1="636.74" y1="497.00" x2="636.74" y2="490.10" stroke="#000" stroke-width="2.3"/>
<line x1="636.74" y1="10.80" x2="636.74" y2="17.70" stroke="#000" stroke-width="2.3"/>
<line x1="658.06" y1="497.00" x2="658.06" y2="490.10" stroke="#000" stroke-width="2.3"/>
<line x1="658.06" y1="10.80" x2="658.06" y2="17.70" stroke="#000" stroke-width="2.3"/>
<line x1="679.39" y1="497.00" x2="679.39" y2="490.10" stroke="#000" stroke-width="2.3"/>
<line x1="679.39" y1="10.80" x2="679.39" y2="17.70" stroke="#000" stroke-width="2.3"/>
<line x1="700.72" y1="497.00" x2="700.72" y2="483.50" stroke="#000" stroke-width="2.3"/>
<line x1="700.72" y1="10.80" x2="700.72" y2="24.30" stroke="#000" stroke-width="2.3"/>
<line x1="722.05" y1="497.00" x2="722.05" y2="490.10" stroke="#000" stroke-width="2.3"/>
<line x1="722.05" y1="10.80" x2="722.05" y2="17.70" stroke="#000" stroke-width="2.3"/>
<line x1="743.38" y1="497.00" x2="743.38" y2="490.10" stroke="#000" stroke-width="2.3"/>
<line x1="743.38" y1="10.80" x2="743.38" y2="17.70" stroke="#000" stroke-width="2.3"/>
<line x1="764.71" y1="497.00" x2="764.71" y2="490.10" stroke="#000" stroke-width="2.3"/>
<line x1="764.71" y1="10.80" x2="764.71" y2="17.70" stroke="#000" stroke-width="2.3"/>
<line x1="786.04" y1="497.00" x2="786.04" y2="490.10" stroke="#000" stroke-width="2.3"/>
<line x1="786.04" y1="10.80" x2="786.04" y2="17.70" stroke="#000" stroke-width="2.3"/>
<line x1="807.37" y1="497.00" x2="807.37" y2="490.10" stroke="#000" stroke-width="2.3"/>
<line x1="807.37" y1="10.80" x2="807.37" y2="17.70" stroke="#000" stroke-width="2.3"/>
<line x1="103.50" y1="472.69" x2="110.40" y2="472.69" stroke="#000" stroke-width="2.3"/>
<line x1="828.70" y1="472.69" x2="821.80" y2="472.69" stroke="#000" stroke-width="2.3"/>
<line x1="103.50" y1="448.38" x2="110.40" y2="448.38" stroke="#000" stroke-width="2.3"/>
<line x1="828.70" y1="448.38" x2="821.80" y2="448.38" stroke="#000" stroke-width="2.3"/>
<line x1="103.50" y1="424.07" x2="110.40" y2="424.07" stroke="#000" stroke-width="2.3"/>
<line x1="828.70" y1="424.07" x2="821.80" y2="424.07" stroke="#000" stroke-width="2.3"/>
<line x1="103.50" y1="399.76" x2="110.40" y2="399.76" stroke="#000" stroke-width="2.3"/>
<line x1="828.70" y1="399.76" x2="821.80" y2="399.76" stroke="#000" stroke-width="2.3"/>
<line x1="103.50" y1="375.45" x2="117.00" y2="375.45" stroke="#000" stroke-width="2.3"/>
<line x1="828.70" y1="375.45" x2="815.20" y2="375.45" stroke="#000" stroke-width="2.3"/>
<line x1="103.50" y1="351.14" x2="110.40" y2="351.14" stroke="#000" stroke-width="2.3"/>
<line x1="828.70" y1="351.14" x2="821.80" y2="351.14" stroke="#000" stroke-width="2.3"/>
<line x1="103.50" y1="326.83" x2="110.40" y2="326.83" stroke="#000" stroke-width="2.3"/>
<line x1="828.70" y1="326.83" x2="821.80" y2="326.83" stroke="#000" stroke-width="2.3"/>
<line x1="103.50" y1="302.52" x2="110.40" y2="302.52" stroke="#000" stroke-width="2.3"/>
<line x1="828.70" y1="302.52" x2="821.80" y2="302.52" stroke="#000" stroke-width="2.3"/>
<line x1="103.50" y1="278.21" x2="110.40" y2="278.21" stroke="#000" stroke-width="2.3"/>
<line x1="828.70" y1="278.21" x2="821.80" y2="278.21" stroke="#000" stroke-width="2.3"/>
<line x1="103.50" y1="253.90" x2="117.00" y2="253.90" stroke="#000" stroke-width="2.3"/>
<line x1="828.70" y1="253.90" x2="815.20" y2="253.90" stroke="#000" stroke-width="2.3"/>
<line x1="103.50" y1="229.59" x2="110.40" y2="229.59" stroke="#000" stroke-width="2.3"/>
<line x1="828.70" y1="229.59" x2="821.80" y2="229.59" stroke="#000" stroke-width="2.3"/>
<line x1="103.50" y1="205.28" x2="110.40" y2="205.28" stroke="#000" stroke-width="2.3"/>
<line x1="828.70" y1="205.28" x2="821.80" y2="205.28" stroke="#000" stroke-width="2.3"/>
<line x1="103.50" y1="180.97" x2="110.40" y2="180.97" stroke="#000" stroke-width="2.3"/>
<line x1="828.70" y1="180.97" x2="821.80" y2="180.97" stroke="#000" stroke-width="2.3"/>
<line x1="103.50" y1="156.66" x2="110.40" y2="156.66" stroke="#000" stroke-width="2.3"/>
<line x1="828.70" y1="156.66" x2="821.80" y2="156.66" stroke="#000" stroke-width="2.3"/>
<line x1="103.50" y1="132.35" x2="117.00" y2="132.35" stroke="#000" stroke-width="2.3"/>
<line x1="828.70" y1="132.35" x2="815.20" y2="132.35" stroke="#000" stroke-width="2.3"/>
<line x1="103.50" y1="108.04" x2="110.40" y2="108.04" stroke="#000" stroke-width="2.3"/>
<line x1="828.70" y1="108.04" x2="821.80" y2="108.04" stroke="#000" stroke-width="2.3"/>
<line x1="103.50" y1="83.73" x2="110.40" y2="83.73" stroke="#000" stroke-width="2.3"/>
<line x1="828.70" y1="83.73" x2="821.80" y2="83.73" stroke="#000" stroke-width="2.3"/>
<line x1="103.50" y1="59.42" x2="110.40" y2="59.42" stroke="#000" stroke-width="2.3"/>
<line x1="828.70" y1="59.42" x2="821.80" y2="59.42" stroke="#000" stroke-width="2.3"/>
<line x1="103.50" y1="35.11" x2="110.40" y2="35.11" stroke="#000" stroke-width="2.3"/>
<line x1="828.70" y1="35.11" x2="821.80" y2="35.11" stroke="#000" stroke-width="2.3"/>
<line x1="116.63" y1="1111.50" x2="116.63" y2="1104.60" stroke="#000" stroke-width="2.3"/>
<line x1="116.63" y1="624.80" x2="116.63" y2="631.70" stroke="#000" stroke-width="2.3"/>
<line x1="143.00" y1="1111.50" x2="143.00" y2="1098.00" stroke="#000" stroke-width="2.3"/>
<line x1="143.00" y1="624.80" x2="143.00" y2="638.30" stroke="#000" stroke-width="2.3"/>
<line x1="169.37" y1="1111.50" x2="169.37" y2="1104.60" stroke="#000" stroke-width="2.3"/>
<line x1="169.37" y1="624.80" x2="169.37" y2="631.70" stroke="#000" stroke-width="2.3"/>
<line x1="195.74" y1="1111.50" x2="195.74" y2="1104.60" stroke="#000" stroke-width="2.3"/>
<line x1="195.74" y1="624.80" x2="195.74" y2="631.70" stroke="#000" stroke-width="2.3"/>
<line x1="222.11" y1="1111.50" x2="222.11" y2="1104.60" stroke="#000" stroke-width="2.3"/>
<line x1="222.11" y1="624.80" x2="222.11" y2="631.70" stroke="#000" stroke-width="2.3"/>
<line x1="248.48" y1="1111.50" x2="248.48" y2="1104.60" stroke="#000" stroke-width="2.3"/>
<line x1="248.48" y1="624.80" x2="248.48" y2="631.70" stroke="#000" stroke-width="2.3"/>
<line x1="274.85" y1="1111.50" x2="274.85" y2="1098.00" stroke="#000" stroke-width="2.3"/>
<line x1="274.85" y1="624.80" x2="274.85" y2="638.30" stroke="#000" stroke-width="2.3"/>
<line x1="301.22" y1="1111.50" x2="301.22" y2="1104.60" stroke="#000" stroke-width="2.3"/>
<line x1="301.22" y1="624.80" x2="301.22" y2="631.70" stroke="#000" stroke-width="2.3"/>
<line x1="327.59" y1="1111.50" x2="327.59" y2="1104.60" stroke="#000" stroke-width="2.3"/>
<line x1="327.59" y1="624.80" x2="327.59" y2="631.70" stroke="#000" stroke-width="2.3"/>
<line x1="353.96" y1="1111.50" x2="353.96" y2="1104.60" stroke="#000" stroke-width="2.3"/>
<line x1="353.96" y1="624.80" x2="353.96" y2="631.70" stroke="#000" stroke-width="2.3"/>
<line x1="380.33" y1="1111.50" x2="380.33" y2="1104.60" stroke="#000" stroke-width="2.3"/>
<line x1="380.33" y1="624.80" x2="380.33" y2="631.70" stroke="#000" stroke-width="2.3"/>
<line x1="406.70" y1="1111.50" x2="406.70" y2="1098.00" stroke="#000" stroke-width="2.3"/>
<line x1="406.70" y1="624.80" x2="406.70" y2="638.30" stroke="#000" stroke-width="2.3"/>
<line x1="433.07" y1="1111.50" x2="433.07" y2="1104.60" stroke="#000" stroke-width="2.3"/>
<line x1="433.07" y1="624.80" x2="433.07" y2="631.70" stroke="#000" stroke-width="2.3"/>
<line x1="459.44" y1="1111.50" x2="459.44" y2="1104.60" stroke="#000" stroke-width="2.3"/>
<line x1="459.44" y1="624.80" x2="459.44" y2="631.70" stroke="#000" stroke-width="2.3"/>
<line x1="485.81" y1="1111.50" x2="485.81" y2="1104.60" stroke="#000" stroke-width="2.3"/>
<line x1="485.81" y1="624.80" x2="485.81" y2="631.70" stroke="#000" stroke-width="2.3"/>
<line x1="512.18" y1="1111.50" x2="512.18" y2="1104.60" stroke="#000" stroke-width="2.3"/>
<line x1="512.18" y1="624.80" x2="512.18" y2="631.70" stroke="#000" stroke-width="2.3"/>
<line x1="538.55" y1="1111.50" x2="538.55" y2="1098.00" stroke="#000" stroke-width="2.3"/>
<line x1="538.55" y1="624.80" x2="538.55" y2="638.30" stroke="#000" stroke-width="2.3"/>
<line x1="564.92" y1="1111.50" x2="564.92" y2="1104.60" stroke="#000" stroke-width="2.3"/>
<line x1="564.92" y1="624.80" x2="564.92" y2="631.70" stroke="#000" stroke-width="2.3"/>
<line x1="591.29" y1="1111.50" x2="591.29" y2="1104.60" stroke="#000" stroke-width="2.3"/>
<line x1="591.29" y1="624.80" x2="591.29" y2="631.70" stroke="#000" stroke-width="2.3"/>
<line x1="617.66" y1="1111.50" x2="617.66" y2="1104.60" stroke="#000" stroke-width="2.3"/>
<line x1="617.66" y1="624.80" x2="617.66" y2="631.70" stroke="#000" stroke-width="2.3"/>
<line x1="644.03" y1="1111.50" x2="644.03" y2="1104.60" stroke="#000" stroke-width="2.3"/>
<line x1="644.03" y1="624.80" x2="644.03" y2="631.70" stroke="#000" stroke-width="2.3"/>
<line x1="670.40" y1="1111.50" x2="670.40" y2="1098.00" stroke="#000" stroke-width="2.3"/>
<line x1="670.40" y1="624.80" x2="670.40" y2="638.30" stroke="#000" stroke-width="2.3"/>
<line x1="696.77" y1="1111.50" x2="696.77" y2="1104.60" stroke="#000" stroke-width="2.3"/>
<line x1="696.77" y1="624.80" x2="696.77" y2="631.70" stroke="#000" stroke-width="2.3"/>
<line x1="723.14" y1="1111.50" x2="723.14" y2="1104.60" stroke="#000" stroke-width="2.3"/>
<line x1="723.14" y1="624.80" x2="723.14" y2="631.70" stroke="#000" stroke-width="2.3"/>
<line x1="749.51" y1="1111.50" x2="749.51" y2="1104.60" stroke="#000" stroke-width="2.3"/>
<line x1="749.51" y1="624.80" x2="749.51" y2="631.70" stroke="#000" stroke-width="2.3"/>
<line x1="775.88" y1="1111.50" x2="775.88" y2="1104.60" stroke="#000" stroke-width="2.3"/>
<line x1="775.88" y1="624.80" x2="775.88" y2="631.70" stroke="#000" stroke-width="2.3"/>
<line x1="802.25" y1="1111.50" x2="802.25" y2="1098.00" stroke="#000" stroke-width="2.3"/>
<line x1="802.25" y1="624.80" x2="802.25" y2="638.30" stroke="#000" stroke-width="2.3"/>
<line x1="103.50" y1="1079.05" x2="117.00" y2="1079.05" stroke="#000" stroke-width="2.3"/>
<line x1="828.70" y1="1079.05" x2="815.20" y2="1079.05" stroke="#000" stroke-width="2.3"/>
<line x1="103.50" y1="1046.61" x2="110.40" y2="1046.61" stroke="#000" stroke-width="2.3"/>
<line x1="828.70" y1="1046.61" x2="821.80" y2="1046.61" stroke="#000" stroke-width="2.3"/>
<line x1="103.50" y1="1014.16" x2="117.00" y2="1014.16" stroke="#000" stroke-width="2.3"/>
<line x1="828.70" y1="1014.16" x2="815.20" y2="1014.16" stroke="#000" stroke-width="2.3"/>
<line x1="103.50" y1="981.71" x2="110.40" y2="981.71" stroke="#000" stroke-width="2.3"/>
<line x1="828.70" y1="981.71" x2="821.80" y2="981.71" stroke="#000" stroke-width="2.3"/>
<line x1="103.50" y1="949.27" x2="117.00" y2="949.27" stroke="#000" stroke-width="2.3"/>
<line x1="828.70" y1="949.27" x2="815.20" y2="949.27" stroke="#000" stroke-width="2.3"/>
<line x1="103.50" y1="916.82" x2="110.40" y2="916.82" stroke="#000" stroke-width="2.3"/>
<line x1="828.70" y1="916.82" x2="821.80" y2="916.82" stroke="#000" stroke-width="2.3"/>
<line x1="103.50" y1="884.37" x2="117.00" y2="884.37" stroke="#000" stroke-width="2.3"/>
<line x1="828.70" y1="884.37" x2="815.20" y2="884.37" stroke="#000" stroke-width="2.3"/>
<line x1="103.50" y1="851.93" x2="110.40" y2="851.93" stroke="#000" stroke-width="2.3"/>
<line x1="828.70" y1="851.93" x2="821.80" y2="851.93" stroke="#000" stroke-width="2.3"/>
<line x1="103.50" y1="819.48" x2="117.00" y2="819.48" stroke="#000" stroke-width="2.3"/>
<line x1="828.70" y1="819.48" x2="815.20" y2="819.48" stroke="#000" stroke-width="2.3"/>
<line x1="103.50" y1="787.03" x2="110.40" y2="787.03" stroke="#000" stroke-width="2.3"/>
<line x1="828.70" y1="787.03" x2="821.80" y2="787.03" stroke="#000" stroke-width="2.3"/>
<line x1="103.50" y1="754.59" x2="117.00" y2="754.59" stroke="#000" stroke-width="2.3"/>
<line x1="828.70" y1="754.59" x2="815.20" y2="754.59" stroke="#000" stroke-width="2.3"/>
<line x1="103.50" y1="722.14" x2="110.40" y2="722.14" stroke="#000" stroke-width="2.3"/>
<line x1="828.70" y1="722.14" x2="821.80" y2="722.14" stroke="#000" stroke-width="2.3"/>
<line x1="103.50" y1="689.69" x2="117.00" y2="689.69" stroke="#000" stroke-width="2.3"/>
<line x1="828.70" y1="689.69" x2="815.20" y2="689.69" stroke="#000" stroke-width="2.3"/>
<line x1="103.50" y1="657.25" x2="110.40" y2="657.25" stroke="#000" stroke-width="2.3"/>
<line x1="828.70" y1="657.25" x2="821.80" y2="657.25" stroke="#000" stroke-width="2.3"/>
</g>
<g id="frames">
<rect x="103.5" y="10.8" width="725.2" height="486.2" fill="none" stroke="#000" stroke-width="2.3" stroke-linejoin="round"/>
<rect x="103.5" y="624.8" width="725.2" height="486.70000000000005" fill="none" stroke="#000" stroke-width="2.3" stroke-linejoin="round"/>
</g>
<g id="labels">
<text transform="translate(91.80,21.20) scale(1.04,1)" font-family="Liberation Sans, sans-serif" font-size="29.5" text-anchor="end" fill="#000">2.0</text>
<text transform="translate(91.80,142.75) scale(0.97,1)" font-family="Liberation Sans, sans-serif" font-size="29.5" text-anchor="end" fill="#000">1.5</text>
<text transform="translate(91.80,264.30) scale(0.97,1)" font-family="Liberation Sans, sans-serif" font-size="29.5" text-anchor="end" fill="#000">1.0</text>
<text transform="translate(91.80,385.85) scale(1.04,1)" font-family="Liberation Sans, sans-serif" font-size="29.5" text-anchor="end" fill="#000">0.5</text>
<text transform="translate(91.80,507.40) scale(1.04,1)" font-family="Liberation Sans, sans-serif" font-size="29.5" text-anchor="end" fill="#000">0.0</text>
<text transform="translate(188.82,532.30) scale(1.04,1)" font-family="Liberation Sans, sans-serif" font-size="29.5" text-anchor="middle" fill="#000">6560</text>
<text transform="translate(359.45,532.30) scale(1.04,1)" font-family="Liberation Sans, sans-serif" font-size="29.5" text-anchor="middle" fill="#000">6562</text>
<text transform="translate(530.09,532.30) scale(1.04,1)" font-family="Liberation Sans, sans-serif" font-size="29.5" text-anchor="middle" fill="#000">6564</text>
<text transform="translate(700.72,532.30) scale(1.04,1)" font-family="Liberation Sans, sans-serif" font-size="29.5" text-anchor="middle" fill="#000">6566</text>
<text transform="translate(91.80,1089.55) scale(1.0,1)" font-family="Liberation Sans, sans-serif" font-size="29.5" text-anchor="end" fill="#000">120</text>
<text transform="translate(91.80,1024.66) scale(1.0,1)" font-family="Liberation Sans, sans-serif" font-size="29.5" text-anchor="end" fill="#000">130</text>
<text transform="translate(91.80,959.77) scale(1.0,1)" font-family="Liberation Sans, sans-serif" font-size="29.5" text-anchor="end" fill="#000">140</text>
<text transform="translate(91.80,894.87) scale(1.0,1)" font-family="Liberation Sans, sans-serif" font-size="29.5" text-anchor="end" fill="#000">150</text>
<text transform="translate(91.80,829.98) scale(1.0,1)" font-family="Liberation Sans, sans-serif" font-size="29.5" text-anchor="end" fill="#000">160</text>
<text transform="translate(91.80,765.09) scale(1.0,1)" font-family="Liberation Sans, sans-serif" font-size="29.5" text-anchor="end" fill="#000">170</text>
<text transform="translate(91.80,700.19) scale(1.0,1)" font-family="Liberation Sans, sans-serif" font-size="29.5" text-anchor="end" fill="#000">180</text>
<text transform="translate(91.80,635.30) scale(1.0,1)" font-family="Liberation Sans, sans-serif" font-size="29.5" text-anchor="end" fill="#000">190</text>
<text transform="translate(143.00,1145.50) scale(1.04,1)" font-family="Liberation Sans, sans-serif" font-size="29.5" text-anchor="middle" fill="#000">0.4</text>
<text transform="translate(274.85,1145.50) scale(1.04,1)" font-family="Liberation Sans, sans-serif" font-size="29.5" text-anchor="middle" fill="#000">0.5</text>
<text transform="translate(406.70,1145.50) scale(1.04,1)" font-family="Liberation Sans, sans-serif" font-size="29.5" text-anchor="middle" fill="#000">0.6</text>
<text transform="translate(538.55,1145.50) scale(1.04,1)" font-family="Liberation Sans, sans-serif" font-size="29.5" text-anchor="middle" fill="#000">0.7</text>
<text transform="translate(670.40,1145.50) scale(1.04,1)" font-family="Liberation Sans, sans-serif" font-size="29.5" text-anchor="middle" fill="#000">0.8</text>
<text transform="translate(802.25,1145.50) scale(1.04,1)" font-family="Liberation Sans, sans-serif" font-size="29.5" text-anchor="middle" fill="#000">0.9</text>
<text transform="translate(178.80,85.40) scale(1.14,1)" font-family="Liberation Sans, sans-serif" font-size="23.5" text-anchor="start" fill="#000" stroke="#000" stroke-width="0.7">0.629</text>
<text transform="translate(148.60,86.00) scale(1.27,1)" font-family="Liberation Sans, sans-serif" font-size="22.5" text-anchor="start" fill="#000" stroke="#000" stroke-width="0.9">=</text>
<text transform="translate(130.6,85.4) scale(1.2,1)" font-family="Liberation Sans, sans-serif" font-size="23" font-style="italic" fill="#000" stroke="#000" stroke-width="0.8">ϕ</text>
<text transform="translate(178.80,163.00) scale(1.14,1)" font-family="Liberation Sans, sans-serif" font-size="23.5" text-anchor="start" fill="#0000ff" stroke="#0000ff" stroke-width="0.7">0.662</text>
<text transform="translate(148.60,163.60) scale(1.27,1)" font-family="Liberation Sans, sans-serif" font-size="22.5" text-anchor="start" fill="#0000ff" stroke="#0000ff" stroke-width="0.9">=</text>
<text transform="translate(130.6,163.0) scale(1.2,1)" font-family="Liberation Sans, sans-serif" font-size="23" font-style="italic" fill="#0000ff" stroke="#0000ff" stroke-width="0.8">ϕ</text>
<text transform="translate(178.80,221.30) scale(1.14,1)" font-family="Liberation Sans, sans-serif" font-size="23.5" text-anchor="start" fill="#006400" stroke="#006400" stroke-width="0.7">0.728</text>
<text transform="translate(148.60,221.90) scale(1.27,1)" font-family="Liberation Sans, sans-serif" font-size="22.5" text-anchor="start" fill="#006400" stroke="#006400" stroke-width="0.9">=</text>
<text transform="translate(130.6,221.3) scale(1.2,1)" font-family="Liberation Sans, sans-serif" font-size="23" font-style="italic" fill="#006400" stroke="#006400" stroke-width="0.8">ϕ</text>
<text transform="translate(178.80,269.50) scale(1.14,1)" font-family="Liberation Sans, sans-serif" font-size="23.5" text-anchor="start" fill="#ffa500" stroke="#ffa500" stroke-width="0.7">0.763</text>
<text transform="translate(148.60,270.10) scale(1.27,1)" font-family="Liberation Sans, sans-serif" font-size="22.5" text-anchor="start" fill="#ffa500" stroke="#ffa500" stroke-width="0.9">=</text>
<text transform="translate(130.6,269.5) scale(1.2,1)" font-family="Liberation Sans, sans-serif" font-size="23" font-style="italic" fill="#ffa500" stroke="#ffa500" stroke-width="0.8">ϕ</text>
<text transform="translate(178.80,316.30) scale(1.14,1)" font-family="Liberation Sans, sans-serif" font-size="23.5" text-anchor="start" fill="#ff0000" stroke="#ff0000" stroke-width="0.7">0.850</text>
<text transform="translate(148.60,316.90) scale(1.27,1)" font-family="Liberation Sans, sans-serif" font-size="22.5" text-anchor="start" fill="#ff0000" stroke="#ff0000" stroke-width="0.9">=</text>
<text transform="translate(130.6,316.3) scale(1.2,1)" font-family="Liberation Sans, sans-serif" font-size="23" font-style="italic" fill="#ff0000" stroke="#ff0000" stroke-width="0.8">ϕ</text>
<text transform="translate(359.20,569.80)" font-family="Liberation Serif, serif" font-size="29" textLength="20.0" lengthAdjust="spacingAndGlyphs" fill="#000" stroke="#000" stroke-width="0.9">W</text>
<text transform="translate(381.00,569.80) scale(1.13,1)" font-family="Liberation Serif, serif" font-size="29" textLength="121.2" lengthAdjust="spacing" fill="#000" stroke="#000" stroke-width="0.55">avelength</text>
<text transform="translate(533.00,569.80)" font-family="Liberation Serif, serif" font-size="29" textLength="41.0" lengthAdjust="spacingAndGlyphs" fill="#000" stroke="#000" stroke-width="0.55">(Å)</text>
<text transform="translate(419.00,45.40)" font-family="Liberation Serif, serif" font-size="29" textLength="33.0" lengthAdjust="spacingAndGlyphs" fill="#000" stroke="#000" stroke-width="0.9">RV</text>
<text transform="translate(467.30,45.40) scale(1.04,1)" font-family="Liberation Serif, serif" font-size="29" textLength="45.2" lengthAdjust="spacing" fill="#000" stroke="#000" stroke-width="0.55">Oct</text>
<text transform="translate(161.90,686.50)" font-family="Liberation Serif, serif" font-size="29" textLength="33.0" lengthAdjust="spacingAndGlyphs" fill="#000" stroke="#000" stroke-width="0.9">RV</text>
<text transform="translate(210.20,686.50) scale(1.04,1)" font-family="Liberation Serif, serif" font-size="29" textLength="45.2" lengthAdjust="spacing" fill="#000" stroke="#000" stroke-width="0.55">Oct</text>
<text transform="translate(39.20,347.80) rotate(-90) scale(1.09,1)" font-family="Liberation Serif, serif" font-size="29" textLength="103.2" lengthAdjust="spacing" fill="#000" stroke="#000" stroke-width="0.55">Relative</text>
<text transform="translate(39.20,219.30) rotate(-90) scale(1.05,1)" font-family="Liberation Serif, serif" font-size="29" textLength="56.7" lengthAdjust="spacing" fill="#000" stroke="#000" stroke-width="0.55">Flux</text>
<text transform="translate(23.80,951.50) rotate(-90)" font-family="Liberation Serif, serif" font-size="29" textLength="33.0" lengthAdjust="spacingAndGlyphs" fill="#000" stroke="#000" stroke-width="0.9">RV</text>
<text transform="translate(23.80,903.50) rotate(-90) scale(1.08,1)" font-family="Liberation Serif, serif" font-size="29" textLength="51.4" lengthAdjust="spacing" fill="#000" stroke="#000" stroke-width="0.55">(km</text>
<text transform="translate(23.80,832.20) rotate(-90)" font-family="Liberation Serif, serif" font-size="29" textLength="13.5" lengthAdjust="spacingAndGlyphs" fill="#000" stroke="#000" stroke-width="0.55">s</text>
<text transform="translate(15.00,815.20) rotate(-90) scale(1.0,1)" font-family="Liberation Serif, serif" font-size="15.5" textLength="18.0" lengthAdjust="spacing" fill="#000" stroke="#000" stroke-width="0.55">−1</text>
<text transform="translate(23.80,795.00) rotate(-90)" font-family="Liberation Serif, serif" font-size="29" textLength="10.0" lengthAdjust="spacingAndGlyphs" fill="#000" stroke="#000" stroke-width="0.9">)</text>
<text transform="translate(397.20,1181.00) scale(1.15,1)" font-family="Liberation Serif, serif" font-size="29" textLength="70.4" lengthAdjust="spacing" fill="#000" stroke="#000" stroke-width="0.55">phase</text>
<text transform="translate(495.20,1181.00)" font-family="Liberation Serif, serif" font-size="29" textLength="10.0" lengthAdjust="spacingAndGlyphs" fill="#000" stroke="#000" stroke-width="0.9">(</text>
<text transform="translate(505.8,1181) scale(1.2,1)" font-family="Liberation Sans, sans-serif" font-size="25" font-style="italic" fill="#000" stroke="#000" stroke-width="0.8">ϕ</text>
<text transform="translate(525.00,1181.00)" font-family="Liberation Serif, serif" font-size="29" textLength="10.0" lengthAdjust="spacingAndGlyphs" fill="#000" stroke="#000" stroke-width="0.9">)</text>
<text transform="translate(631.50,1042.50) scale(1.17,1)" font-family="Liberation Serif, serif" font-size="29" textLength="69.7" lengthAdjust="spacing" fill="#000" stroke="#000" stroke-width="0.55">metal</text>
<text transform="translate(730.00,1042.50) scale(1.13,1)" font-family="Liberation Serif, serif" font-size="29" textLength="58.8" lengthAdjust="spacing" fill="#000" stroke="#000" stroke-width="0.55">lines</text>
<text transform="translate(631.50,1074.20)" font-family="Liberation Serif, serif" font-size="29" textLength="19.0" lengthAdjust="spacingAndGlyphs" fill="#000" stroke="#000" stroke-width="0.55">H</text>
<text transform="translate(651.5,1074.2) scale(1.1,1)" font-family="Liberation Serif, serif" font-size="25" font-style="italic" fill="#000" stroke="#000" stroke-width="0.5">α</text>
</g>
</svg>
</body></html>
